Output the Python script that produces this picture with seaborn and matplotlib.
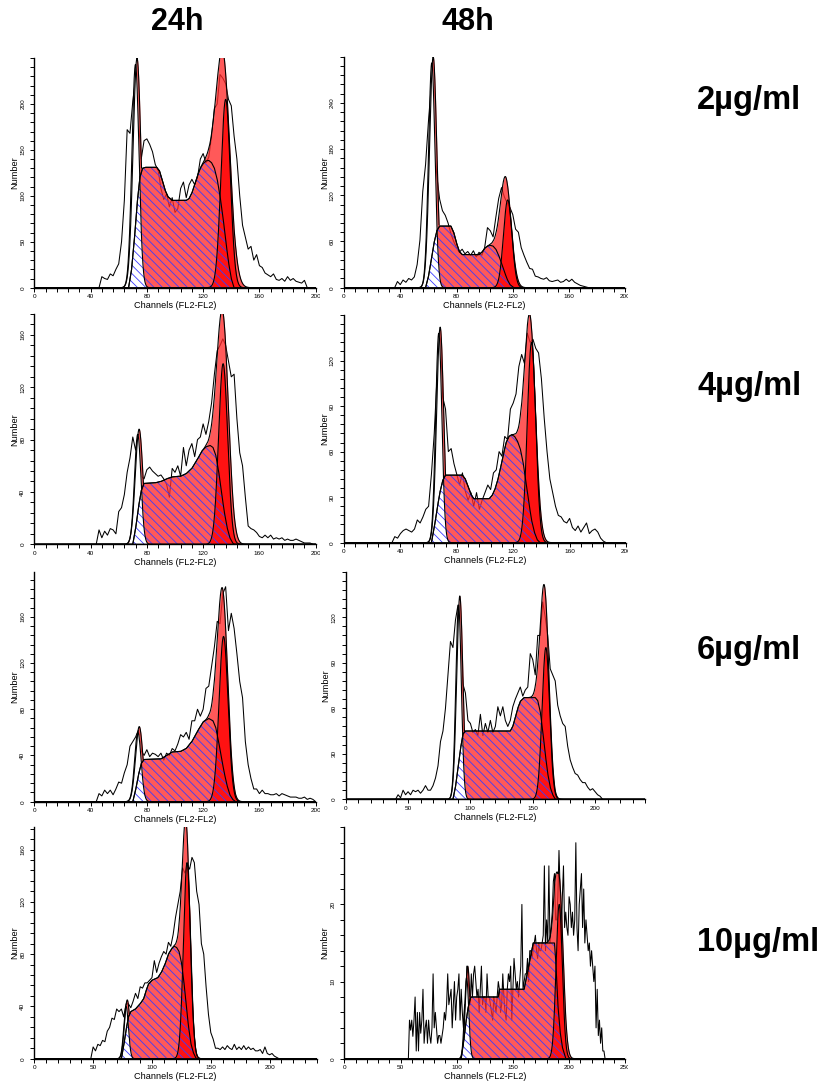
import numpy as np
import matplotlib
matplotlib.use("Agg")
import matplotlib.pyplot as plt
import seaborn as sns
from matplotlib.ticker import MultipleLocator
from matplotlib.transforms import Bbox

# ---------------------------------------------------------------------------
# Raw DNA-content histograms: first channel, channel step, counts per channel
# ---------------------------------------------------------------------------
D24_2_START, D24_2_STEP = 46, 2
D24_2_COUNTS = [0, 12, 10, 9, 15, 13, 20, 26, 50, 95, 172, 168, 203, 228, 180, 140,
                160, 162, 156, 148, 134, 128, 108, 96, 102, 88, 98, 82, 86, 108, 115, 98,
                112, 118, 112, 120, 140, 146, 136, 142, 165, 195, 200, 232, 228, 222, 205,
                198, 165, 140, 100, 68, 55, 42, 45, 30, 36, 24, 22, 16, 14, 12, 15, 9, 8,
                10, 7, 12, 8, 10, 7, 6, 5, 8, 0]

D48_2_START, D48_2_STEP = 36, 2
D48_2_COUNTS = [0, 8, 4, 10, 7, 12, 10, 14, 30, 62, 125, 160, 215, 262, 190, 145,
                115, 100, 94, 84, 70, 60, 52, 46, 50, 44, 47, 42, 48, 40, 46, 42, 52, 78,
                74, 66, 92, 116, 130, 118, 110, 104, 95, 76, 72, 52, 42, 33, 25, 24, 15,
                14, 12, 11, 13, 9, 8, 9, 10, 7, 8, 11, 8, 11, 7, 5, 3, 2, 1, 0]

D24_4_START, D24_4_STEP = 44, 2
D24_4_COUNTS = [0, 11, 5, 10, 7, 12, 11, 8, 25, 28, 38, 55, 66, 82, 72, 84, 52, 50,
                57, 59, 56, 54, 52, 53, 50, 46, 36, 58, 55, 60, 52, 74, 60, 72, 77, 67,
                80, 82, 92, 84, 94, 108, 130, 148, 152, 157, 152, 140, 128, 130, 96, 70,
                60, 36, 14, 12, 11, 9, 6, 5, 7, 5, 7, 4, 5, 4, 5, 3, 4, 3, 3, 4, 3, 2,
                1, 1, 1, 0]

D48_4_START, D48_4_STEP = 34, 2
D48_4_COUNTS = [0, 4, 3, 6, 8, 9, 8, 7, 9, 15, 13, 17, 22, 24, 45, 72, 110, 135, 96,
                88, 60, 62, 52, 45, 38, 46, 34, 28, 33, 24, 33, 22, 28, 33, 38, 35, 46,
                48, 60, 57, 70, 68, 88, 92, 98, 116, 124, 118, 138, 132, 134, 128, 125,
                108, 82, 60, 42, 33, 24, 18, 17, 14, 13, 16, 10, 8, 11, 7, 10, 13, 6, 8,
                9, 7, 3, 1, 0]

D24_6_START, D24_6_STEP = 44, 2
D24_6_COUNTS = [0, 7, 5, 10, 7, 10, 6, 11, 17, 16, 25, 32, 48, 52, 56, 62, 44, 40,
                45, 39, 42, 41, 39, 42, 36, 42, 40, 46, 44, 50, 58, 56, 60, 54, 70, 70,
                80, 74, 80, 98, 100, 117, 134, 156, 154, 180, 186, 148, 163, 150, 128,
                104, 90, 52, 32, 20, 11, 11, 7, 10, 7, 7, 6, 6, 7, 5, 7, 6, 5, 4, 4, 4,
                3, 3, 4, 2, 3, 2, 0]

D48_6_START, D48_6_STEP = 40, 2
D48_6_COUNTS = [0, 3, 1, 6, 3, 5, 3, 6, 5, 6, 4, 6, 9, 6, 6, 9, 14, 22, 38, 45, 60,
                82, 104, 100, 118, 128, 104, 76, 70, 52, 50, 44, 46, 42, 56, 42, 50, 44,
                52, 44, 48, 61, 55, 61, 52, 48, 52, 61, 66, 70, 74, 68, 72, 74, 96, 92,
                82, 108, 108, 130, 120, 108, 86, 82, 78, 62, 55, 50, 48, 35, 26, 21, 17,
                16, 13, 11, 11, 8, 6, 7, 5, 3, 2, 0]

D24_10_START, D24_10_STEP = 48, 2
D24_10_COUNTS = [0, 9, 6, 11, 10, 14, 13, 21, 24, 31, 30, 38, 36, 38, 32, 42, 42, 39,
                 44, 50, 46, 55, 54, 58, 58, 60, 62, 75, 66, 73, 78, 82, 80, 89, 86, 95,
                 108, 118, 128, 146, 142, 148, 145, 154, 150, 128, 118, 88, 80, 55, 34,
                 20, 15, 8, 8, 7, 9, 7, 10, 8, 7, 11, 7, 9, 7, 10, 7, 9, 7, 8, 6, 6, 7,
                 4, 9, 4, 3, 4, 2, 1, 0]

D48_10_START, D48_10_STEP = 57, 1
D48_10_COUNTS = [0, 5, 3.7, 5, 2.9, 5, 8, 1, 6, 1, 6, 3.3, 5, 9, 2, 4, 5, 2, 5, 3, 2,
                 4, 11, 4, 6, 4, 2, 3, 3, 2, 3, 4, 6, 5, 7, 11, 7, 8, 9, 4, 7, 10, 5, 8,
                 9, 11, 5, 9, 6, 4, 7, 5, 12, 11, 8, 7, 11, 8, 11, 12, 10, 8, 9, 6, 9,
                 12, 7, 8, 8, 6, 11, 8, 8, 7, 6, 5, 8, 7, 6, 8, 10, 9, 6, 7, 11, 8, 6,
                 5, 9, 11, 10, 12, 5, 9, 13, 11, 9, 10, 8, 10, 12, 20, 9, 10, 11, 11, 13,
                 10, 14, 14, 13, 14, 15, 16, 14, 13, 15, 14, 14, 15, 16, 25, 14, 18, 15,
                 25, 15, 17, 19, 23, 24, 18, 18, 21, 27, 22, 15, 21, 25, 17, 19, 17, 16,
                 21, 20, 17, 19, 16, 18, 28, 17, 14, 20, 22, 24, 17, 22, 15, 18, 16, 14,
                 15, 12, 14, 12, 10, 12, 4, 9, 3, 5, 2, 4, 1, 1, 0]

# ---------------------------------------------------------------------------
# Fitted cell-cycle model: G1 / G2 peaks as (mean channel, height, sd),
# S phase as (channel, count) outline points
# ---------------------------------------------------------------------------
D24_2_G1, D24_2_G1_ENV = (71.9, 243, 2.5), (73.0, 250, 2.8)
D24_2_G2, D24_2_G2_ENV = (136.0, 205, 3.3), (135.0, 185, 4.8)
D24_2_S_CH = [67, 69, 71, 73, 75, 77, 79, 87, 89, 91, 93, 95, 98, 108, 110, 112, 114,
              116, 118, 120, 122, 124, 126, 128, 130, 132, 134, 136, 138, 140, 142]
D24_2_S_N = [0, 18, 50, 90, 120, 130, 131, 131, 127, 117, 106, 99, 95, 95, 97, 103, 112,
             122, 130, 135, 138, 138.5, 136, 130, 118, 100, 78, 52, 28, 10, 0]

D48_2_G1, D48_2_G1_ENV = (62.4, 292, 2.3), (63.4, 300, 2.6)
D48_2_G2, D48_2_G2_ENV = (116.4, 114, 3.0), (115.2, 128, 3.8)
D48_2_S_CH = [58, 60, 62, 64, 66, 68, 76, 78, 80, 82, 84, 96, 98, 100, 102, 104, 106,
              108, 110, 112, 114, 116, 118, 120, 121]
D48_2_S_N = [0, 14, 36, 58, 74, 80, 80, 72, 58, 47, 43, 43, 46, 51, 54, 55, 54, 50, 42,
             32, 21, 11, 4, 1, 0]

D24_4_G1, D24_4_G1_ENV = (73.5, 84, 2.3), (74.5, 88, 2.7)
D24_4_G2, D24_4_G2_ENV = (134.2, 138, 3.2), (134.3, 146, 4.0)
D24_4_S_CH = [70, 72, 74, 76, 78, 86, 90, 94, 98, 104, 108, 112, 116, 119, 122, 125,
              127, 129, 131, 133, 135, 137, 139, 141, 142]
D24_4_S_N = [0, 12, 28, 41, 46.5, 47, 48, 50, 51.5, 52, 54, 58, 65, 71, 74.5, 75.5, 74,
             68, 56, 40, 25, 13, 5, 1, 0]

D48_4_G1, D48_4_G1_ENV = (67.2, 138, 2.2), (68.2, 142, 2.5)
D48_4_G2, D48_4_G2_ENV = (133.0, 132, 3.0), (132.2, 129, 3.8)
D48_4_S_CH = [62, 64, 66, 68, 70, 72, 84, 86, 88, 90, 92, 103, 105, 107, 109, 111, 113,
              115, 117, 119, 121, 123, 125, 127, 129, 131, 133, 135, 137, 139]
D48_4_S_N = [0, 10, 22, 33, 41, 44.5, 44.5, 42, 37, 32, 29, 29, 31, 35, 41, 49, 58, 66,
             70, 71, 70, 67, 62, 53, 40, 27, 15, 7, 2, 0]

D24_6_G1, D24_6_G1_ENV = (73.6, 60, 2.3), (74.6, 65, 2.6)
D24_6_G2, D24_6_G2_ENV = (134.5, 143, 3.2), (134.0, 152, 3.6)
D24_6_S_CH = [70, 72, 74, 76, 78, 90, 94, 98, 104, 108, 112, 116, 120, 124, 127, 129,
              131, 133, 135, 137, 139, 141, 143]
D24_6_S_N = [0, 10, 23, 33, 36.5, 37, 40, 43, 43.5, 46, 52, 61, 69, 72, 70, 64, 52, 38,
             25, 14, 6, 2, 0]

D48_6_G1, D48_6_G1_ENV = (90.5, 128, 2.2), (91.5, 134, 2.5)
D48_6_G2, D48_6_G2_ENV = (160.5, 100, 3.0), (159.8, 107, 3.4)
D48_6_S_CH = [86, 88, 90, 92, 94, 96, 132, 134, 136, 138, 140, 143, 152, 154, 156, 158,
              160, 162, 164, 166, 168]
D48_6_S_N = [0, 8, 20, 33, 43, 45, 45, 48, 54, 60, 64.5, 67, 67, 65, 58, 45, 30, 17, 8,
             3, 0]

D24_10_G1, D24_10_G1_ENV = (78.0, 40, 2.0), (79.0, 45, 2.3)
D24_10_G2, D24_10_G2_ENV = (129.8, 150, 3.0), (129.2, 140, 3.2)
D24_10_S_CH = [74, 76, 78, 80, 82, 86, 90, 93, 95, 97, 100, 105, 108, 111, 114, 117, 119,
               121, 123, 125, 127, 129, 131, 133, 135, 137, 138]
D24_10_S_N = [0, 10, 22, 32, 36, 38, 42, 46, 52, 57, 60, 62, 66, 72, 80, 84.5, 86, 85,
              82, 74, 60, 42, 25, 12, 5, 1, 0]

D48_10_G1, D48_10_G1_ENV = (108.8, 10.5, 1.9), (109.8, 12, 2.1)
D48_10_G2, D48_10_G2_ENV = (191.2, 20, 2.8), (191.6, 19, 3.4)
D48_10_S_CH = [104, 106, 108, 110, 112, 113, 137, 138, 160, 162, 164, 166, 168, 187,
               188, 189, 190, 192, 194, 196, 197]
D48_10_S_N = [0, 2, 4.5, 6.5, 7.8, 8, 8, 9, 9, 10.5, 12, 13.5, 15, 15, 13, 10, 7, 3.5,
              1.5, 0.5, 0]

# axis ranges and ticks
XLIM = [200, 200, 200, 200, 200, 240, 240, 250]
YLIM = [250, 300, 176, 150, 199, 150, 177, 30]
XTICKS_40 = [0, 40, 80, 120, 160, 200]
XTICKS_50 = [0, 50, 100, 150, 200]
XTICKS_50B = [0, 50, 100, 150, 200, 250]
YTICKS = [[0, 50, 100, 150, 200], [0, 60, 120, 180, 240], [0, 40, 80, 120, 160],
          [0, 30, 60, 90, 120], [0, 40, 80, 120, 160], [0, 30, 60, 90, 120],
          [0, 40, 80, 120, 160], [0, 10, 20]]

COL_TITLES = ["24h", "48h"]
ROW_TITLES = ["2µg/ml", "4µg/ml", "6µg/ml", "10µg/ml"]

# ---------------------------------------------------------------------------
# layout (pixels) and style
# ---------------------------------------------------------------------------
FIG_W, FIG_H = 824, 1086
# x of channel 0, x of right end, y of count 0, y of top
BOXES = [(34.3, 315.7, 287.7, 58.0), (344.0, 625.3, 287.7, 56.7),
         (34.3, 315.7, 544.3, 314.0), (344.0, 626.0, 542.7, 315.0),
         (34.3, 315.7, 801.7, 571.7), (345.7, 645.0, 799.3, 571.7),
         (34.3, 316.7, 1058.7, 827.3), (344.3, 625.3, 1058.7, 827.3)]
LABEL_CLIP = [320, 628, 320, 628, 320, None, None, 628]
COL_TITLE_POS = [(177, 22), (468, 22)]
ROW_TITLE_POS = [(697, 101), (697, 386), (697, 651), (697, 943)]

LIGHT, LIGHT_A = "#ff2a2a", 0.78
DARK, DARK_A = "#ff0000", 0.80
HATCH = "#3c3cff"

sns.set_style("ticks")
plt.rcParams["font.family"] = ["Liberation Sans", "DejaVu Sans"]
for key in ("text.color", "axes.labelcolor", "xtick.color", "ytick.color",
            "axes.edgecolor"):
    plt.rcParams[key] = "black"
plt.rcParams["hatch.color"] = HATCH
plt.rcParams["hatch.linewidth"] = 0.6


def peak(x, mean, height, sd):
    return height * np.exp(-0.5 * ((x - mean) / sd) ** 2)


panels = [
    dict(start=D24_2_START, step=D24_2_STEP, counts=D24_2_COUNTS, g1=D24_2_G1,
         g1_env=D24_2_G1_ENV, g2=D24_2_G2, g2_env=D24_2_G2_ENV, s_ch=D24_2_S_CH,
         s_n=D24_2_S_N, xticks=XTICKS_40, xminor=8),
    dict(start=D48_2_START, step=D48_2_STEP, counts=D48_2_COUNTS, g1=D48_2_G1,
         g1_env=D48_2_G1_ENV, g2=D48_2_G2, g2_env=D48_2_G2_ENV, s_ch=D48_2_S_CH,
         s_n=D48_2_S_N, xticks=XTICKS_40, xminor=8),
    dict(start=D24_4_START, step=D24_4_STEP, counts=D24_4_COUNTS, g1=D24_4_G1,
         g1_env=D24_4_G1_ENV, g2=D24_4_G2, g2_env=D24_4_G2_ENV, s_ch=D24_4_S_CH,
         s_n=D24_4_S_N, xticks=XTICKS_40, xminor=8),
    dict(start=D48_4_START, step=D48_4_STEP, counts=D48_4_COUNTS, g1=D48_4_G1,
         g1_env=D48_4_G1_ENV, g2=D48_4_G2, g2_env=D48_4_G2_ENV, s_ch=D48_4_S_CH,
         s_n=D48_4_S_N, xticks=XTICKS_40, xminor=8),
    dict(start=D24_6_START, step=D24_6_STEP, counts=D24_6_COUNTS, g1=D24_6_G1,
         g1_env=D24_6_G1_ENV, g2=D24_6_G2, g2_env=D24_6_G2_ENV, s_ch=D24_6_S_CH,
         s_n=D24_6_S_N, xticks=XTICKS_40, xminor=8),
    dict(start=D48_6_START, step=D48_6_STEP, counts=D48_6_COUNTS, g1=D48_6_G1,
         g1_env=D48_6_G1_ENV, g2=D48_6_G2, g2_env=D48_6_G2_ENV, s_ch=D48_6_S_CH,
         s_n=D48_6_S_N, xticks=XTICKS_50, xminor=10),
    dict(start=D24_10_START, step=D24_10_STEP, counts=D24_10_COUNTS, g1=D24_10_G1,
         g1_env=D24_10_G1_ENV, g2=D24_10_G2, g2_env=D24_10_G2_ENV, s_ch=D24_10_S_CH,
         s_n=D24_10_S_N, xticks=XTICKS_50, xminor=10),
    dict(start=D48_10_START, step=D48_10_STEP, counts=D48_10_COUNTS, g1=D48_10_G1,
         g1_env=D48_10_G1_ENV, g2=D48_10_G2, g2_env=D48_10_G2_ENV, s_ch=D48_10_S_CH,
         s_n=D48_10_S_N, xticks=XTICKS_50B, xminor=10),
]

fig = plt.figure(figsize=(FIG_W / 100, FIG_H / 100), dpi=100)

for i, p in enumerate(panels):
    x0, x1, yb, yt = BOXES[i]
    w_px, h_px = x1 - x0, yb - yt
    ax = fig.add_axes([x0 / FIG_W, 1 - yb / FIG_H, w_px / FIG_W, h_px / FIG_H])
    xmax, ymax = XLIM[i], YLIM[i]

    # model components on a fine channel grid
    x = np.arange(0, xmax + 0.05, 0.1)
    s = np.interp(x, p["s_ch"], p["s_n"], left=0, right=0)
    g1 = peak(x, *p["g1"])
    e1 = peak(x, *p["g1_env"])
    g2 = peak(x, *p["g2"])
    e2 = peak(x, *p["g2_env"]) + s
    top = np.maximum.reduce([s, e1, e2])

    # raw histogram trace
    ch = p["start"] + p["step"] * np.arange(len(p["counts"]))
    sns.lineplot(x=ch, y=np.asarray(p["counts"], float), ax=ax, color="black",
                 linewidth=0.75, estimator=None, zorder=1)

    # fitted areas
    ax.fill_between(x, 0, top, color=LIGHT, alpha=LIGHT_A, lw=0, zorder=2)
    ax.fill_between(x, 0, g1, color="white", lw=0, zorder=3)
    ax.fill_between(x, 0, g2, color=DARK, alpha=DARK_A, lw=0, zorder=4)
    ax.fill_between(x, 0, s, facecolor="none", edgecolor=HATCH, hatch="\\\\\\\\",
                    lw=0, zorder=5)
    kw = dict(color="black", lw=0.8, zorder=6)
    ax.plot(x, np.where(e1 >= s, e1, np.nan), **kw)
    ax.plot(x, g1, **kw)
    ax.plot(x, s, **kw)
    ax.plot(x, g2, **kw)
    ax.plot(x, e2, **kw)

    # axes styling
    ax.set_xlim(0, xmax)
    ax.set_ylim(0, ymax)
    for side in ("top", "right"):
        ax.spines[side].set_visible(False)
    for side in ("left", "bottom"):
        ax.spines[side].set_linewidth(1.0)
        ax.spines[side].set_color("black")
        ax.spines[side].set_zorder(10)
    ax.set_xticks(p["xticks"])
    ax.set_yticks(YTICKS[i])
    ax.xaxis.set_minor_locator(MultipleLocator(p["xminor"]))
    ax.yaxis.set_minor_locator(MultipleLocator(YTICKS[i][1] / 5))
    ax.tick_params(which="both", direction="out", length=3, width=0.7, color="black",
                   labelcolor="black")
    ax.tick_params(axis="x", labelsize=4.6, pad=1.5)
    ax.tick_params(axis="y", labelsize=4.6, pad=3.5, labelrotation=90)
    for lab in ax.get_yticklabels():
        lab.set_va("center")

    ax.set_xlabel("Channels (FL2-FL2)", fontsize=6.6, color="black")
    ax.xaxis.set_label_coords(0.5, -18 / h_px)
    ax.xaxis.label.set_va("center")
    ax.set_ylabel("Number", fontsize=6.6, color="black")
    ax.yaxis.set_label_coords(-19.5 / w_px, 0.5)
    ax.yaxis.label.set_va("center")

    if LABEL_CLIP[i]:
        lab = ax.xaxis.get_major_ticks()[-1].label1
        lab.set_clip_box(Bbox([[0, 0], [LABEL_CLIP[i], FIG_H]]))
        lab.set_clip_on(True)

for (px, py), t in zip(COL_TITLE_POS, COL_TITLES):
    fig.text(px / FIG_W, 1 - py / FIG_H, t, ha="center", va="center",
             fontsize=22, fontweight="bold", color="black")
for (px, py), t in zip(ROW_TITLE_POS, ROW_TITLES):
    fig.text(px / FIG_W, 1 - py / FIG_H, t, ha="left", va="center",
             fontsize=23.5, fontweight="bold", color="black")

fig.savefig("out.png", dpi=100, facecolor="white")
